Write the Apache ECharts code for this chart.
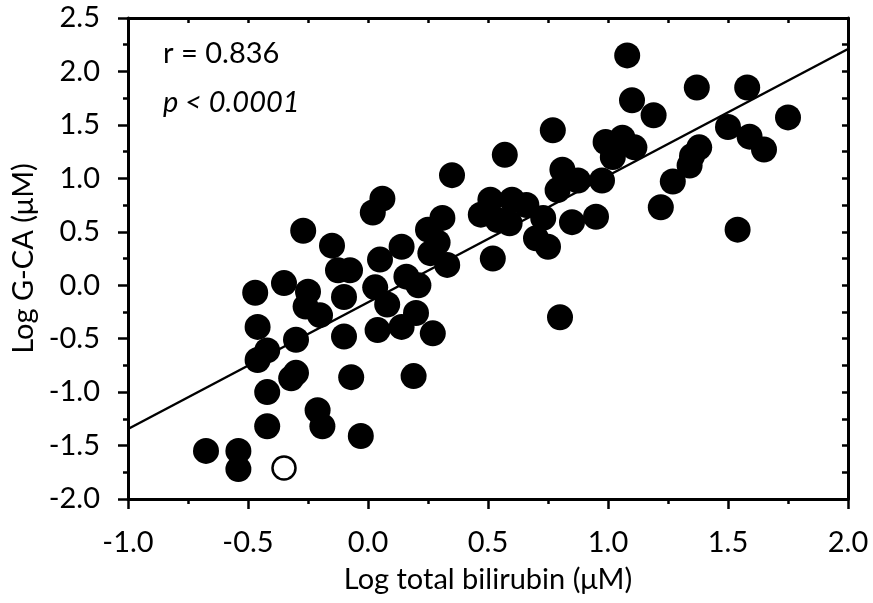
<!DOCTYPE html>
<html>
<head>
<meta charset="utf-8">
<script src="https://cdn.jsdelivr.net/npm/echarts@6/dist/echarts.min.js"></script>
<style>
  html, body { margin: 0; padding: 0; background: #fff; }
  #chart { width: 873px; height: 603px; }
</style>
</head>
<body>
<div id="chart"></div>
<script>
// log total bilirubin vs log G-CA, filled = patients
const filledPoints = [
  [-0.675, -1.55], [-0.54, -1.55], [-0.54, -1.72], [-0.42, -1.32], [-0.42, -1.0],
  [-0.32, -0.87], [-0.30, -0.82], [-0.21, -1.17], [-0.19, -1.32], [-0.03, -1.41],
  [-0.07, -0.86], [0.19, -0.85], [-0.46, -0.70], [-0.42, -0.61], [-0.46, -0.39],
  [-0.30, -0.51], [-0.10, -0.48], [0.04, -0.42], [0.14, -0.39], [0.20, -0.26],
  [0.27, -0.45], [-0.47, -0.07], [-0.35, 0.02], [-0.25, -0.06], [-0.26, -0.20],
  [-0.20, -0.28], [-0.10, -0.11], [-0.125, 0.14], [-0.075, 0.14], [-0.15, 0.37],
  [-0.27, 0.51], [0.03, -0.02], [0.08, -0.18], [0.05, 0.24], [0.14, 0.36],
  [0.16, 0.08], [0.21, 0.0], [0.02, 0.68], [0.06, 0.81], [0.25, 0.52],
  [0.26, 0.30], [0.33, 0.19], [0.31, 0.63], [0.29, 0.40], [0.35, 1.03],
  [0.52, 0.25], [0.51, 0.80], [0.60, 0.80], [0.66, 0.75], [0.47, 0.66],
  [0.54, 0.61], [0.59, 0.58], [0.73, 0.63], [0.70, 0.44], [0.75, 0.36],
  [0.57, 1.22], [0.77, 1.45], [0.81, 1.08], [0.875, 0.98], [0.975, 0.98],
  [0.79, 0.89], [0.85, 0.59], [0.95, 0.64], [0.99, 1.34], [1.06, 1.38],
  [1.11, 1.29], [1.02, 1.20], [1.08, 2.15], [1.10, 1.73], [1.19, 1.59],
  [1.37, 1.85], [1.58, 1.85], [1.75, 1.57], [1.50, 1.48], [1.59, 1.39],
  [1.65, 1.27], [1.38, 1.29], [1.35, 1.21], [1.34, 1.12], [1.27, 0.97],
  [1.22, 0.73], [1.54, 0.52], [0.80, -0.30]
]
const openPoints = [[-0.35, -1.71]]
const fitLine = [[-1.0, -1.345], [2.0, 2.21]]
const rText = 'r = 0.836'
const pText = 'p < 0.0001'

const FONT = 'Lato, "Open Sans", sans-serif'
const SIZE = 29
const axisLine = { show: true, onZero: false, lineStyle: { color: '#000', width: 3 } }
const tickStyle = { color: '#000', width: 2.5 }
const fmt = v => v.toFixed(1)

const chart = echarts.init(document.getElementById('chart'))

chart.setOption({
  animation: false,
  backgroundColor: '#fff',
  grid: { left: 128, right: 25, top: 18, bottom: 104, containLabel: false },
  graphic: [
    { type: 'text', left: 163, top: 39,
      style: { text: rText, font: SIZE + 'px ' + FONT, fill: '#000' } },
    { type: 'text', left: 163, top: 88,
      style: { text: pText, font: 'italic ' + SIZE + 'px ' + FONT, fill: '#000' } }
  ],
  xAxis: [
    {
      type: 'value', position: 'bottom', min: -1, max: 2, interval: 0.5,
      axisLine,
      axisTick: { show: true, length: 10, lineStyle: tickStyle },
      minorTick: { show: true, splitNumber: 2, length: 5, lineStyle: tickStyle },
      splitLine: { show: false },
      axisLabel: { formatter: fmt, color: '#000', fontSize: SIZE, fontFamily: FONT, margin: 29 },
      name: 'Log total bilirubin (μM)', nameLocation: 'middle', nameGap: 66,
      nameTextStyle: { color: '#000', fontSize: SIZE, fontFamily: FONT }
    },
    {
      type: 'value', position: 'top', min: -1, max: 2, interval: 0.5,
      axisLine,
      axisTick: { show: true, inside: true, length: 5, lineStyle: tickStyle },
      minorTick: { show: true, splitNumber: 2, length: 5, lineStyle: tickStyle },
      splitLine: { show: false },
      axisLabel: { show: false }
    }
  ],
  yAxis: [
    {
      type: 'value', position: 'left', min: -2, max: 2.5, interval: 0.5,
      axisLine,
      axisTick: { show: true, length: 10, lineStyle: tickStyle },
      minorTick: { show: true, splitNumber: 2, length: 5, lineStyle: tickStyle },
      splitLine: { show: false },
      axisLabel: { formatter: fmt, color: '#000', fontSize: SIZE, fontFamily: FONT, margin: 28 },
      name: 'Log G-CA (μM)', nameLocation: 'middle', nameGap: 80,
      nameTextStyle: { color: '#000', fontSize: SIZE, fontFamily: FONT }
    },
    {
      type: 'value', position: 'right', min: -2, max: 2.5, interval: 0.5,
      axisLine,
      axisTick: { show: true, inside: true, length: 6, lineStyle: tickStyle },
      minorTick: { show: true, splitNumber: 2, length: 6, lineStyle: tickStyle },
      splitLine: { show: false },
      axisLabel: { show: false }
    }
  ],
  series: [
    {
      type: 'line', data: fitLine, showSymbol: false, z: 1,
      lineStyle: { color: '#000', width: 2.5 }
    },
    {
      type: 'scatter', data: filledPoints, symbol: 'circle', symbolSize: 26, z: 2,
      itemStyle: { color: '#000', opacity: 1 }
    },
    {
      type: 'scatter', data: openPoints, symbol: 'circle', symbolSize: 23, z: 2,
      itemStyle: { color: '#fff', borderColor: '#000', borderWidth: 2.5, opacity: 1 }
    }
  ]
})
</script>
</body>
</html>
